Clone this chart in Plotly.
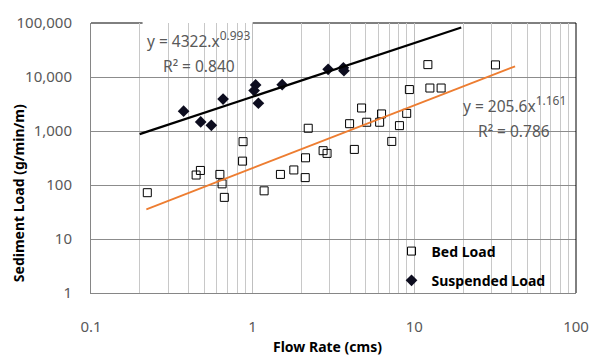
import plotly.graph_objects as go

# ---- data ----
bed_flow = [0.223, 0.447, 0.475, 0.627, 0.647, 0.668, 0.866, 0.872, 1.177, 1.485,
            1.797, 2.114, 2.123, 2.206, 2.727, 2.885, 3.976, 4.255, 4.717, 5.075,
            6.10, 6.27, 7.25, 8.09, 8.97, 9.32, 12.13, 12.48, 14.65, 31.75]
bed_load = [72, 153, 186, 157, 105, 59, 277, 635, 78, 157,
            190, 137, 319, 1124, 432, 385, 1366, 456, 2667, 1453,
            1453, 2070, 641, 1257, 2121, 5850, 16950, 6250, 6250, 16750]

susp_flow = [0.374, 0.477, 0.555, 0.656, 1.043, 1.021, 1.085, 1.523, 2.93, 3.64, 3.67]
susp_load = [2324, 1471, 1273, 3908, 7140, 5610, 3268, 7200, 13890, 14780, 13050]

# power-law trendlines  y = a * x^b
susp_a, susp_b = 4322.0, 0.993
bed_a, bed_b = 205.6, 1.161
susp_fit_x = [0.2, 19.5]
bed_fit_x = [0.22, 42.0]

x_ticks = [0.1, 1, 10, 100]
x_tick_text = ["0.1", "1", "10", "100"]
y_ticks = [1, 10, 100, 1000, 10000, 100000]
y_tick_text = ["1", "10", "100", "1,000", "10,000", "100,000"]

FONT = "Noto Sans"
GREY = "#595959"

fig = go.Figure()

fig.add_trace(go.Scatter(
    x=bed_flow, y=bed_load, mode="markers", name="Bed Load", legendgroup="a",
    marker=dict(symbol="square-open", size=8, color="#000000", line=dict(width=1, color="#000000")),
))
fig.add_trace(go.Scatter(
    x=susp_flow, y=susp_load, mode="markers", name="Suspended Load", legendgroup="b",
    marker=dict(symbol="diamond", size=9, color="#0d0d1f"),
))
fig.add_trace(go.Scatter(
    x=susp_fit_x, y=[susp_a * v ** susp_b for v in susp_fit_x], mode="lines",
    line=dict(color="#000000", width=2.2), showlegend=False, hoverinfo="skip",
))
fig.add_trace(go.Scatter(
    x=bed_fit_x, y=[bed_a * v ** bed_b for v in bed_fit_x], mode="lines",
    line=dict(color="#ED7D31", width=1.8), showlegend=False, hoverinfo="skip",
))

L, R, T, B = 91, 21, 16, 64
W, H = 601, 357
pw, ph = W - L - R, H - T - B


def px(xp):
    return (xp - L) / pw


def py(yp):
    return (H - B - yp) / ph


shapes = [
    # top line of plot area
    dict(type="line", xref="paper", yref="paper", x0=0, x1=1, y0=1, y1=1,
         line=dict(color="#000000", width=1), layer="between"),
    # white label boxes
    dict(type="rect", xref="paper", yref="paper", x0=px(143), x1=px(254), y0=py(76), y1=py(0),
         fillcolor="white", line=dict(width=0), layer="between"),
    dict(type="rect", xref="paper", yref="paper", x0=px(463), x1=px(573), y0=py(142), y1=py(83),
         fillcolor="white", line=dict(width=0), layer="between"),
    dict(type="rect", xref="paper", yref="paper", x0=px(403), x1=px(550), y0=0, y1=py(238),
         fillcolor="white", line=dict(width=0), layer="between"),
    # right border
    dict(type="line", xref="paper", yref="paper", x0=1, x1=1, y0=0, y1=1,
         line=dict(color="#000000", width=1), layer="above"),
]

SUP = "<sup><span style='font-size:12px'>{}</span></sup>"
annotations = [
    dict(text="y = 4322.x" + SUP.format("0.993"), x=px(199), y=py(33)),
    dict(text="R² = 0.840", x=px(199.5), y=py(60)),
    dict(text="y = 205.6x" + SUP.format("1.161"), x=px(518), y=py(100)),
    dict(text="R² = 0.786", x=px(517.5), y=py(127)),
]
for a in annotations:
    a.update(xref="paper", yref="paper", showarrow=False, xanchor="center", yanchor="middle",
             font=dict(family=FONT, size=15.5, color=GREY))

annotations.append(dict(text="<b>Sediment Load (g/min/m)</b>", xref="paper", yref="paper",
                        x=px(18), y=py(191), textangle=-90, showarrow=False,
                        xanchor="center", yanchor="middle",
                        font=dict(family=FONT, size=14, color="#000000")))
annotations.append(dict(text="<b>Flow Rate (cms)</b>", xref="paper", yref="paper",
                        x=px(329), y=py(348), showarrow=False,
                        xanchor="center", yanchor="middle",
                        font=dict(family=FONT, size=14, color="#000000")))

fig.update_layout(
    width=W, height=H,
    margin=dict(l=L, r=R, t=T, b=B),
    paper_bgcolor="white", plot_bgcolor="white",
    font=dict(family=FONT, size=15, color=GREY),
    shapes=shapes, annotations=annotations,
    showlegend=True,
    legend=dict(x=px(394), y=py(234), xanchor="left", yanchor="top",
                bgcolor="rgba(0,0,0,0)", tracegroupgap=8,
                font=dict(family=FONT, size=14, color="#000000", weight="bold")),
)

fig.update_xaxes(
    type="log", range=[-1, 2], tickvals=x_ticks, ticktext=x_tick_text,
    showgrid=True, gridcolor="#bfbfbf", gridwidth=1,
    minor=dict(dtick="D1", showgrid=True, gridcolor="#c8c8c8", gridwidth=1, ticks=""),
    showline=True, linecolor="#868686", linewidth=1, ticks="", zeroline=False,
    ticklabelstandoff=20, tickfont=dict(family=FONT, size=15, color=GREY),
)
fig.update_yaxes(
    type="log", range=[0, 5], tickvals=y_ticks, ticktext=y_tick_text,
    showgrid=True, gridcolor="#8c8c8c", gridwidth=1,
    showline=True, linecolor="#868686", linewidth=1, ticks="", zeroline=False,
    ticklabelstandoff=15, tickfont=dict(family=FONT, size=15, color=GREY),
)

fig.write_html("out.html")
